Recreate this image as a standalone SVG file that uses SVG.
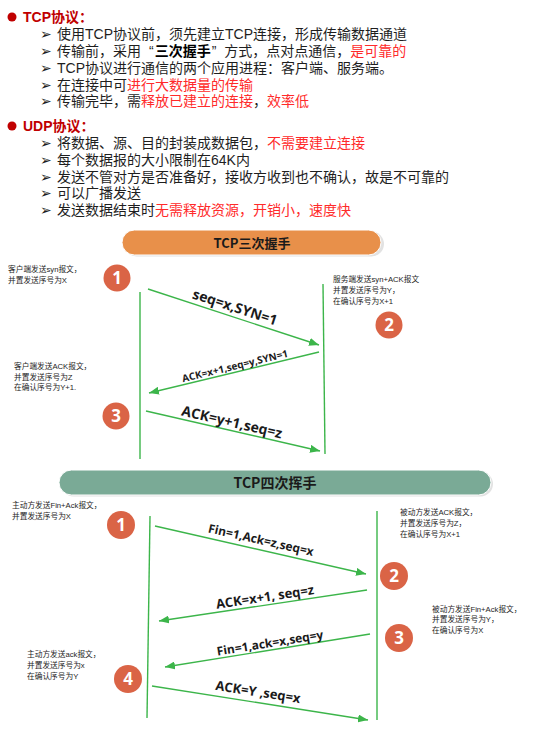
<svg xmlns="http://www.w3.org/2000/svg" width="535" height="744" viewBox="0 0 535 744">
<defs>
<style>
.t{font-family:"Liberation Sans","Noto Sans CJK SC",sans-serif;font-size:14px;fill:#1e1e1e}
.r{fill:#ff2a2a}
.h{font-family:"Liberation Sans","Noto Sans CJK SC",sans-serif;font-size:14px;font-weight:bold;fill:#c00000}
.ar{font-family:"DejaVu Sans",sans-serif;font-size:14px;fill:#1e1e1e}
.s{font-family:"Liberation Sans","Noto Sans CJK SC",sans-serif;font-size:7.7px;fill:#1e1e1e}
.lb{font-family:"Open Sans","Noto Sans",sans-serif;font-weight:bold;fill:#1a1a1a;text-anchor:middle}
.bt{font-family:"Noto Sans CJK SC",sans-serif;font-weight:bold;fill:#1a1a1a;text-anchor:middle}
.ln{stroke:#3cb54a;stroke-width:1.4;fill:none}
.ac{stroke:#3cb54a;stroke-width:1.4;fill:none;marker-end:url(#ah)}
.c{fill:#da6446}
.n{font-family:"Open Sans","Liberation Sans",sans-serif;font-weight:bold;font-size:17px;fill:#fff;text-anchor:middle}
</style>
<marker id="ah" markerUnits="userSpaceOnUse" markerWidth="10" markerHeight="8" refX="10" refY="4" orient="auto">
<path d="M0,0 L10,4 L0,8 z" fill="#3cb54a"/>
</marker>
</defs>
<rect width="535" height="744" fill="#fff"/>

<g id="text-tcp">
<circle cx="12" cy="17" r="4.5" fill="#c00000"/>
<text class="h" x="23" y="22">TCP协议：</text>
<text class="ar" x="40" y="39">➢</text>
<text class="t" x="57" y="39">使用TCP协议前，须先建立TCP连接，形成传输数据通道</text>
<text class="ar" x="40" y="56">➢</text>
<text class="t" x="57" y="56">传输前，采用<tspan dx="8">“</tspan><tspan dx="1" font-weight="bold" fill="#000">三次握手</tspan><tspan dx="1">”</tspan><tspan dx="8">方式，点对点通信，</tspan><tspan class="r">是可靠的</tspan></text>
<text class="ar" x="40" y="73">➢</text>
<text class="t" x="57" y="73">TCP协议进行通信的两个应用进程：客户端、服务端。</text>
<text class="ar" x="40" y="90">➢</text>
<text class="t" x="57" y="90">在连接中可<tspan class="r">进行大数据量的传输</tspan></text>
<text class="ar" x="40" y="106">➢</text>
<text class="t" x="57" y="106">传输完毕，需<tspan class="r">释放已建立的连接</tspan>，<tspan class="r">效率低</tspan></text>
</g>

<g id="text-udp">
<circle cx="12" cy="126" r="4.5" fill="#c00000"/>
<text class="h" x="23" y="131">UDP协议：</text>
<text class="ar" x="40" y="148">➢</text>
<text class="t" x="57" y="148">将数据、源、目的封装成数据包，<tspan class="r">不需要建立连接</tspan></text>
<text class="ar" x="40" y="165">➢</text>
<text class="t" x="57" y="165">每个数据报的大小限制在64K内</text>
<text class="ar" x="40" y="182">➢</text>
<text class="t" x="57" y="182">发送不管对方是否准备好，接收方收到也不确认，故是不可靠的</text>
<text class="ar" x="40" y="198">➢</text>
<text class="t" x="57" y="198">可以广播发送</text>
<text class="ar" x="40" y="215">➢</text>
<text class="t" x="57" y="215">发送数据结束时<tspan class="r">无需释放资源，开销小，速度快</tspan></text>
</g>

<g id="banner-3way">
<rect x="124" y="231.5" width="260" height="25" rx="12.5" fill="#e2e2e2"/>
<rect x="122" y="230" width="259" height="25" rx="12.5" fill="#e8904a" stroke="#fff" stroke-width="1"/>
<text class="bt" x="252" y="248" font-size="13">TCP三次握手</text>
</g>

<g id="banner-4way">
<rect x="61" y="471.5" width="432" height="25" rx="12.5" fill="#e2e2e2"/>
<rect x="59" y="470" width="432" height="25" rx="12.5" fill="#7aaa96" stroke="#fff" stroke-width="1"/>
<text class="bt" x="275" y="488" font-size="14">TCP四次挥手</text>
</g>

<g id="connectors">
<line class="ln" x1="140" y1="292" x2="140" y2="459"/>
<line class="ln" x1="323" y1="284" x2="325" y2="454"/>
<line class="ac" x1="148" y1="289" x2="319" y2="345"/>
<line class="ac" x1="319" y1="352" x2="149" y2="393"/>
<line class="ac" x1="146" y1="411" x2="320" y2="451"/>

<line class="ln" x1="150" y1="516" x2="147" y2="718"/>
<line class="ln" x1="377" y1="511" x2="377" y2="720"/>
<line class="ac" x1="155" y1="526" x2="366" y2="574"/>
<line class="ac" x1="367" y1="590" x2="159" y2="621"/>
<line class="ac" x1="370" y1="634" x2="165" y2="667"/>
<line class="ac" x1="152" y1="686" x2="368" y2="720"/>
</g>

<g id="labels">
<text class="lb" font-size="14" transform="translate(235,307) rotate(18)" y="5">seq=x,SYN=1</text>
<text class="lb" font-size="10" transform="translate(235,366) rotate(-13.6)" y="3.5">ACK=x+1,seq=y,SYN=1</text>
<text class="lb" font-size="14" transform="translate(232,422) rotate(13)" y="5">ACK=y+1,seq=z</text>
<text class="lb" font-size="12" transform="translate(261,540) rotate(12.8)" y="4.2">Fin=1,Ack=z,seq=x</text>
<text class="lb" font-size="13" transform="translate(265,597) rotate(-8.5)" y="4.5">ACK=x+1, seq=z</text>
<text class="lb" font-size="12" transform="translate(270,643) rotate(-9.1)" y="4.2">Fin=1,ack=x,seq=y</text>
<text class="lb" font-size="13" transform="translate(258,692) rotate(8.9)" y="4.5">ACK=Y ,seq=x</text>
</g>

<g id="step1-3way">
<text class="s" x="8" y="272">客户端发送syn报文，</text>
<text class="s" x="8" y="283">并置发送序号为X</text>
<circle class="c" cx="117" cy="278" r="13.5"/>
<text class="n" x="117" y="284">1</text>
</g>
<g id="step2-3way">
<text class="s" x="333" y="282">服务端发送syn+ACK报文</text>
<text class="s" x="333" y="293">并置发送序号为Y，</text>
<text class="s" x="333" y="304">在确认序号为X+1</text>
<circle class="c" cx="389" cy="325" r="13.5"/>
<text class="n" x="389" y="331">2</text>
</g>
<g id="step3-3way">
<text class="s" x="14" y="369">客户端发送ACK报文，</text>
<text class="s" x="14" y="380">并置发送序号为Z</text>
<text class="s" x="14" y="390">在确认序号为Y+1.</text>
<circle class="c" cx="116" cy="416" r="13.5"/>
<text class="n" x="116" y="422">3</text>
</g>

<g id="step1-4way">
<text class="s" x="12" y="508">主动方发送Fin+Ack报文，</text>
<text class="s" x="12" y="519">并置发送序号为X</text>
<circle class="c" cx="121" cy="525" r="14"/>
<text class="n" x="121" y="531">1</text>
</g>
<g id="step2-4way">
<text class="s" x="400" y="515">被动方发送ACK报文，</text>
<text class="s" x="400" y="526">并置发送序号为Z，</text>
<text class="s" x="400" y="537">在确认序号为X+1</text>
<circle class="c" cx="394" cy="576" r="14"/>
<text class="n" x="394" y="582">2</text>
</g>
<g id="step3-4way">
<text class="s" x="432" y="612">被动方发送Fin+Ack报文，</text>
<text class="s" x="432" y="622">并置发送序号为Y，</text>
<text class="s" x="432" y="633">在确认序号为X</text>
<circle class="c" cx="399" cy="638" r="14"/>
<text class="n" x="399" y="644">3</text>
</g>
<g id="step4-4way">
<text class="s" x="27" y="657">主动方发送ack报文，</text>
<text class="s" x="27" y="668">并置发送序号为x</text>
<text class="s" x="27" y="679">在确认序号为Y</text>
<circle class="c" cx="128" cy="679" r="14"/>
<text class="n" x="128" y="685">4</text>
</g>
</svg>
